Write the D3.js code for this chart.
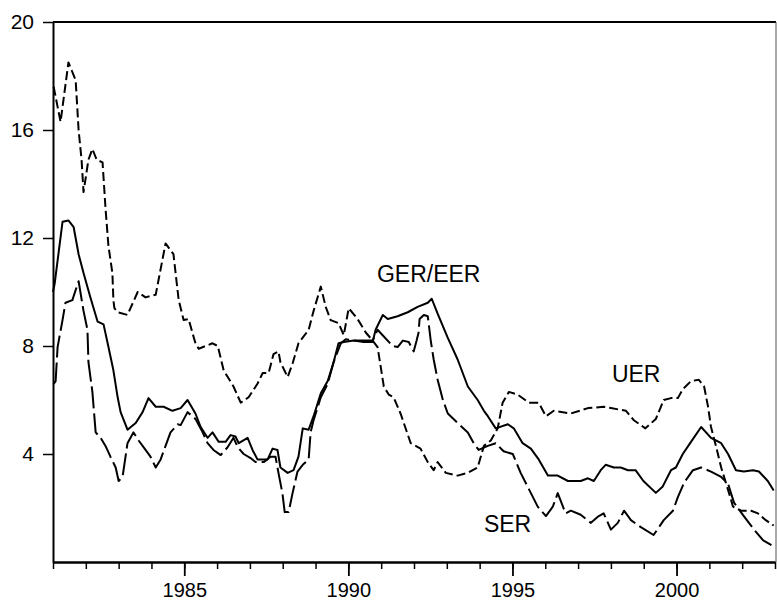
<!DOCTYPE html>
<html lang="en">
<head>
    <script src="https://d3js.org/d3.v7.min.js"></script>
    <style>
        body { margin: 0; background: #fff; }
        text { font-family: "Liberation Sans", Arial, sans-serif; }
    </style>
</head>
<body>
    <svg></svg>
    <script>
        // solid line
        const gerYears = [1981.0, 1981.05, 1981.29, 1981.47, 1981.63, 1981.78, 1981.93, 1982.14, 1982.36, 1982.54,
            1982.69, 1982.84, 1982.97, 1983.06, 1983.27, 1983.52, 1983.73, 1983.91, 1984.13, 1984.37,
            1984.64, 1984.89, 1985.10, 1985.34, 1985.50, 1985.71, 1985.86, 1986.05, 1986.26, 1986.41,
            1986.56, 1986.66, 1986.93, 1987.08, 1987.23, 1987.54, 1987.69, 1987.84, 1987.93, 1988.15,
            1988.33, 1988.48, 1988.61, 1988.79, 1988.94, 1989.16, 1989.37, 1989.55, 1989.70, 1989.86,
            1990.16, 1990.47, 1990.74, 1990.83, 1991.05, 1991.20, 1991.50, 1991.81, 1992.11, 1992.42,
            1992.54, 1992.72, 1993.03, 1993.33, 1993.64, 1993.94, 1994.13, 1994.25, 1994.49, 1994.86,
            1995.04, 1995.31, 1995.56, 1995.80, 1996.08, 1996.38, 1996.69, 1997.08, 1997.30, 1997.48,
            1997.69, 1997.84, 1998.09, 1998.30, 1998.52, 1998.75, 1998.99, 1999.37, 1999.58, 1999.83,
            1999.98, 2000.19, 2000.44, 2000.75, 2001.05, 2001.36, 2001.57, 2001.81, 2002.05, 2002.33,
            2002.51, 2002.78, 2002.96]
        const gerValues = [10.0, 10.3, 12.6, 12.65, 12.4, 11.4, 10.7, 9.8, 8.9, 8.8,
            7.96, 7.1, 6.1, 5.55, 4.9, 5.15, 5.55, 6.07, 5.75, 5.75,
            5.6, 5.7, 6.0, 5.5, 5.0, 4.6, 4.8, 4.45, 4.45, 4.7,
            4.65, 4.4, 4.6, 4.15, 3.8, 3.8, 4.2, 4.15, 3.5, 3.3,
            3.4, 3.9, 4.95, 4.9, 5.4, 6.25, 6.7, 7.4, 8.1, 8.15,
            8.2, 8.15, 8.15, 8.6, 9.15, 9.0, 9.1, 9.25, 9.45, 9.6,
            9.75, 9.2, 8.3, 7.5, 6.5, 6.0, 5.6, 5.4, 4.95, 5.1,
            4.95, 4.4, 4.2, 3.8, 3.2, 3.2, 3.0, 3.0, 3.1, 3.0,
            3.4, 3.6, 3.5, 3.5, 3.4, 3.4, 3.0, 2.56, 2.8, 3.4,
            3.5, 4.0, 4.45, 5.0, 4.6, 4.4, 4.0, 3.4, 3.35, 3.4,
            3.35, 3.0, 2.65]

        // short dashes
        const uerYears = [1981.02, 1981.23, 1981.47, 1981.69, 1981.78, 1981.87, 1981.93, 1982.08, 1982.20, 1982.33,
            1982.51, 1982.60, 1982.69, 1982.81, 1982.84, 1982.87, 1982.97, 1983.27, 1983.58, 1983.82,
            1984.13, 1984.43, 1984.67, 1984.83, 1984.98, 1985.13, 1985.34, 1985.44, 1985.86, 1986.02,
            1986.20, 1986.50, 1986.72, 1986.96, 1987.23, 1987.39, 1987.57, 1987.72, 1987.87, 1987.93,
            1988.15, 1988.30, 1988.48, 1988.79, 1988.94, 1989.16, 1989.31, 1989.46, 1989.70, 1989.86,
            1990.01, 1990.28, 1990.53, 1990.74, 1990.89, 1990.99, 1991.08, 1991.23, 1991.38, 1991.59,
            1991.90, 1992.20, 1992.42, 1992.60, 1992.72, 1992.97, 1993.33, 1993.64, 1993.94, 1994.13,
            1994.34, 1994.55, 1994.70, 1994.89, 1995.16, 1995.50, 1995.80, 1996.02, 1996.26, 1996.78,
            1997.30, 1997.78, 1998.00, 1998.46, 1998.70, 1999.05, 1999.37, 1999.61, 1999.83, 2000.04,
            2000.19, 2000.44, 2000.68, 2000.84, 2000.96, 2001.05, 2001.20, 2001.36, 2001.60, 2001.72,
            2001.97, 2002.27, 2002.48, 2002.72, 2002.96]
        const uerValues = [17.6, 16.3, 18.5, 17.85, 16.0, 14.9, 13.7, 14.9, 15.3, 14.9,
            14.8, 13.1, 11.7, 10.7, 9.7, 9.4, 9.25, 9.15, 10.0, 9.8,
            9.9, 11.8, 11.4, 9.7, 8.96, 9.0, 8.1, 7.9, 8.1, 8.0,
            7.1, 6.5, 5.9, 6.1, 6.6, 7.0, 7.0, 7.7, 7.8, 7.4,
            6.85, 7.35, 8.1, 8.6, 9.3, 10.2, 9.45, 8.96, 8.85, 8.4,
            9.4, 9.0, 8.5, 8.2, 7.96, 7.2, 6.5, 6.2, 6.1, 5.5,
            4.4, 4.2, 3.7, 3.4, 3.7, 3.3, 3.2, 3.3, 3.5, 4.3,
            4.5, 4.95, 5.9, 6.3, 6.2, 5.9, 5.9, 5.4, 5.6, 5.5,
            5.7, 5.75, 5.7, 5.6, 5.25, 4.95, 5.3, 6.0, 6.07, 6.07,
            6.4, 6.7, 6.75, 6.5, 5.75, 5.0, 4.3, 3.5, 2.55, 2.05,
            1.9, 1.9, 1.8, 1.55, 1.35]

        // long dashes
        const serYears = [1981.02, 1981.08, 1981.14, 1981.29, 1981.38, 1981.59, 1981.78, 1981.93, 1982.05, 1982.08,
            1982.20, 1982.30, 1982.45, 1982.60, 1982.75, 1982.91, 1983.00, 1983.12, 1983.27, 1983.45,
            1983.61, 1983.82, 1983.97, 1984.13, 1984.28, 1984.43, 1984.58, 1984.80, 1984.89, 1985.10,
            1985.34, 1985.56, 1985.71, 1985.89, 1986.11, 1986.32, 1986.50, 1986.63, 1986.81, 1987.02,
            1987.17, 1987.42, 1987.63, 1987.78, 1987.87, 1987.99, 1988.06, 1988.18, 1988.30, 1988.45,
            1988.61, 1988.79, 1988.85, 1988.94, 1989.16, 1989.37, 1989.55, 1989.77, 1989.92, 1990.22,
            1990.53, 1990.74, 1990.89, 1991.08, 1991.35, 1991.50, 1991.66, 1991.84, 1991.99, 1992.08,
            1992.14, 1992.17, 1992.30, 1992.42, 1992.51, 1992.60, 1992.72, 1992.88, 1993.03, 1993.33,
            1993.64, 1993.82, 1993.97, 1994.25, 1994.49, 1994.73, 1995.01, 1995.25, 1995.50, 1995.77,
            1996.02, 1996.23, 1996.38, 1996.62, 1996.78, 1997.08, 1997.39, 1997.63, 1997.78, 1998.00,
            1998.21, 1998.40, 1998.61, 1998.90, 1999.30, 1999.61, 1999.89, 2000.04, 2000.24, 2000.50,
            2000.75, 2001.05, 2001.36, 2001.57, 2001.75, 2002.05, 2002.36, 2002.64, 2003.0]
        const serValues = [6.6, 6.7, 7.96, 8.96, 9.6, 9.7, 10.4, 9.3, 8.6, 7.4,
            6.3, 4.8, 4.6, 4.3, 3.9, 3.5, 3.0, 3.15, 4.4, 4.8,
            4.5, 4.15, 3.9, 3.5, 3.8, 4.3, 4.8, 5.1, 5.07, 5.55,
            5.3, 4.8, 4.4, 4.15, 3.96, 4.25, 4.6, 4.25, 4.0, 3.85,
            3.7, 3.7, 3.9, 3.9, 3.3, 2.55, 1.85, 1.85, 2.55, 3.35,
            3.6, 3.8, 4.8, 5.25, 6.1, 6.6, 7.4, 8.1, 8.25, 8.2,
            8.2, 8.2, 8.6, 8.35, 8.0, 7.96, 8.2, 8.15, 7.8, 8.2,
            8.5, 9.0, 9.15, 9.1, 8.2, 7.5, 6.75, 6.0, 5.5, 5.15,
            4.8, 4.4, 4.15, 4.3, 4.4, 4.1, 4.0, 3.3, 2.7, 2.05,
            1.7, 2.05, 2.55, 1.8, 1.9, 1.75, 1.45, 1.7, 1.8, 1.2,
            1.45, 1.9, 1.55, 1.3, 1.0, 1.55, 1.9, 2.4, 2.96, 3.4,
            3.5, 3.35, 3.15, 2.9, 2.2, 1.7, 1.2, 0.8, 0.55]

        const yTicks = [4, 8, 12, 16, 20]
        const xMinorTicks = d3.range(1981, 2004)
        const xLabels = [1985, 1990, 1995, 2000]
        const seriesLabels = ['GER/EER', 'UER', 'SER']

        // where each series label sits, in data units (year, value at baseline)
        const labelAt = [[1990.87, 10.37], [1998.03, 6.67], [1994.13, 1.11]]

        const W = 777
        const H = 602
        const plotL = 53, plotR = 775, plotT = 22, plotB = 562

        const svg = d3.select('svg')
            .attr('width', W)
            .attr('height', H)

        const x = d3.scaleLinear().domain([1981, 2003]).range([plotL, plotR])
        const y = d3.scaleLinear().domain([0, 20]).range([plotB, plotT])

        // frame top / right
        svg.append('line')
            .attr('x1', plotL).attr('x2', plotR + 1)
            .attr('y1', plotT).attr('y2', plotT)
            .attr('stroke', '#000').attr('stroke-width', 2)
        svg.append('line')
            .attr('x1', plotR + 1).attr('x2', plotR + 1)
            .attr('y1', plotT).attr('y2', plotB)
            .attr('stroke', '#555').attr('stroke-width', 1)

        const yAxis = svg.append('g')
            .attr('transform', `translate(${plotL},0)`)
            .call(d3.axisLeft(y).tickValues(yTicks).tickSize(10).tickSizeOuter(0).tickPadding(9))
        yAxis.select('.domain').attr('stroke-width', 2)
        yAxis.selectAll('line').attr('stroke-width', 1.5)
        yAxis.selectAll('text')
            .attr('font-size', 21)
            .attr('fill', '#000')
            .attr('font-family', '"Liberation Sans", Arial, sans-serif')

        const xMinor = svg.append('g')
            .attr('transform', `translate(0,${plotB})`)
            .call(d3.axisBottom(x).tickValues(xMinorTicks).tickSize(7).tickSizeOuter(0).tickFormat(''))
        xMinor.select('.domain').attr('stroke-width', 2.5)
        xMinor.selectAll('line').attr('stroke-width', 1.5)

        const xMajor = svg.append('g')
            .attr('transform', `translate(0,${plotB})`)
            .call(d3.axisBottom(x).tickValues(xLabels).tickSize(14).tickFormat(d3.format('d')))
        xMajor.select('.domain').remove()
        xMajor.selectAll('line').attr('stroke-width', 1.8)
        xMajor.selectAll('text')
            .attr('y', 35)
            .attr('dy', null)
            .attr('font-size', 20)
            .attr('fill', '#000')
            .attr('font-family', '"Liberation Sans", Arial, sans-serif')

        const line = d3.line()
            .x(d => x(d[0]))
            .y(d => y(d[1]))

        const series = [
            { years: gerYears, values: gerValues, dash: null },
            { years: uerYears, values: uerValues, dash: '9,4' },
            { years: serYears, values: serValues, dash: '22,5' }
        ]

        svg.append('g')
            .selectAll('path')
            .data(series)
            .enter()
            .append('path')
            .attr('d', s => line(s.years.map((yr, i) => [yr, s.values[i]])))
            .attr('fill', 'none')
            .attr('stroke', '#000')
            .attr('stroke-width', 2)
            .attr('stroke-linejoin', 'round')
            .attr('stroke-dasharray', s => s.dash)

        svg.append('g')
            .selectAll('text')
            .data(seriesLabels)
            .enter()
            .append('text')
            .attr('x', (d, i) => x(labelAt[i][0]))
            .attr('y', (d, i) => y(labelAt[i][1]))
            .attr('font-size', 23)
            .attr('fill', '#000')
            .text(d => d)
    </script>
</body>
</html>
